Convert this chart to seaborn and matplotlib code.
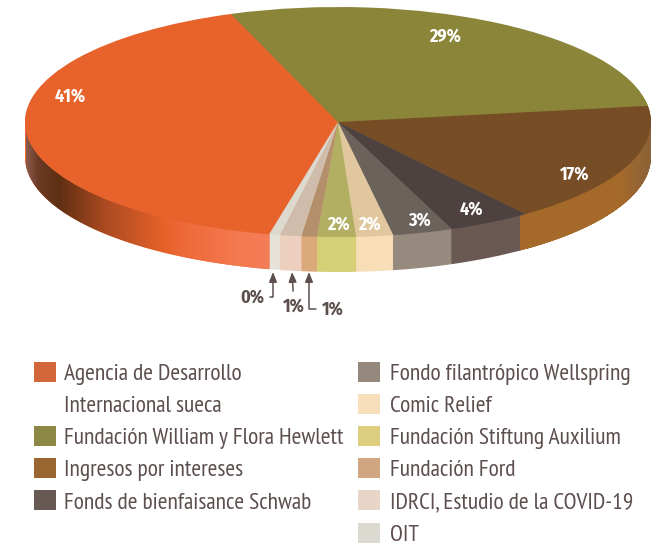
import numpy as np
import matplotlib
matplotlib.use("Agg")
import matplotlib.pyplot as plt
from matplotlib.patches import Patch, Polygon
from matplotlib.colors import LinearSegmentedColormap
from matplotlib import font_manager as fm
import seaborn as sns

categories = ["Agencia de Desarrollo Internacional sueca", "Fundación William y Flora Hewlett",
              "Ingresos por intereses", "Fonds de bienfaisance Schwab", "Fondo filantrópico Wellspring",
              "Comic Relief", "Fundación Stiftung Auxilium", "Fundación Ford",
              "IDRCI, Estudio de la COVID-19", "OIT"]
values = [40.9, 28.3, 17.0, 4.3, 3.1, 1.9, 2.0, 0.8, 1.1, 0.55]
pct_labels = ["41%", "29%", "17%", "4%", "3%", "2%", "2%", "1%", "1%", "0%"]
top_colors = ["#e8632b", "#8a8539", "#774d26", "#4e4240", "#6b625c", "#e0c79d", "#b2ae62", "#b48f6c", "#cfbcab", "#dcd9cf"]
side_colors = ["#ee6a3a", "#8a8539", "#a56a2a", "#6a5853", "#96897d", "#f7deb7", "#d5cf78", "#dca97a", "#edcfbd", "#e6e2d8"]
legend_colors = ["#d4673a", "#8c8744", "#9a6631", "#675a55", "#95897e", "#f7dfbb", "#dccd7f", "#cfa680", "#e8d5c7", "#dcdad0"]
legend_left = ["Agencia de Desarrollo", "Internacional sueca", "Fundación William y Flora Hewlett",
               "Ingresos por intereses", "Fonds de bienfaisance Schwab"]
legend_right = ["Fondo filantrópico Wellspring", "Comic Relief", "Fundación Stiftung Auxilium",
                "Fundación Ford", "IDRCI, Estudio de la COVID-19", "OIT"]

sns.set_theme(style="white")
names = {f.name for f in fm.fontManager.ttflist}
# condensed face if the machine has one, otherwise a plain face at a smaller size
if "PT Sans Narrow" in names:
    LEG_FONT, LEG_FS = "PT Sans Narrow", 16.9
else:
    LEG_FONT, LEG_FS = "Liberation Sans", 12.5
if "Fira Sans Condensed" in names:
    PCT_FONT, PCT_FS = "Fira Sans Condensed", 13
else:
    PCT_FONT, PCT_FS = "Liberation Sans", 10.5
plt.rcParams["font.family"] = [LEG_FONT, "DejaVu Sans"]
TXT = "#5d4f4e"

W, H = 668, 547
A, B, CX, CY, DEPTH = 313.0, 115.0, 338.0, 122.0, 35
START = 257.3

fig = plt.figure(figsize=(W / 100, H / 100), dpi=100, facecolor="white")
ax = fig.add_axes([0, 0, 1, 1])
overlay = fig.add_axes([0, 0, 1, 1], facecolor="none")
palette_top = sns.color_palette(top_colors)
palette_side = sns.color_palette(side_colors)

# side wall: stacked copies of the pie, shifted downward
for k in range(DEPTH, 0, -1):
    ax.pie(values, colors=palette_side, startangle=START, counterclock=False,
           center=(0, -k / B), wedgeprops={"linewidth": 0})

frac = np.cumsum(values) / np.sum(values) * 360


def wall_band(a0, a1):
    t = np.radians(np.linspace(a0, a1, 120))
    upper = np.c_[np.cos(t), np.sin(t)]
    lower = upper[::-1] - [0, DEPTH / B]
    return np.vstack([upper, lower])


def gradient(a0, a1, stops):
    xs = [(p - CX) / A for p, _ in stops]
    lo, hi = xs[0], xs[-1]
    cmap = LinearSegmentedColormap.from_list("g", [((x - lo) / (hi - lo), c) for x, (_, c) in zip(xs, stops)])
    im = ax.imshow(np.linspace(0, 1, 512)[None, :], extent=(lo, hi, -1.6, 0.2), cmap=cmap,
                   aspect="auto", zorder=1.5, interpolation="bilinear")
    clip = Polygon(wall_band(a0, a1), closed=True, transform=ax.transData, fill=False, lw=0)
    ax.add_patch(clip)
    im.set_clip_path(clip)


# orange wall runs from the leftmost point to the slice's end angle
gradient(180, START, [(26, "#8a5a4c"), (38, "#6b3a25"), (58, "#5f2f12"), (105, "#ab4a22"),
                      (165, "#e8622a"), (185, "#ee6a3a"), (240, "#f47a50"), (270, "#f47c58")])
# brown wall: from the slice's clockwise end to the rightmost point
brown_end = START - frac[2]
gradient(brown_end, 360, [(520, "#a56a2a"), (620, "#a56a2a"), (652, "#8a6238")])

wedges, _ = ax.pie(values, colors=palette_top, startangle=START, counterclock=False,
                   wedgeprops={"linewidth": 0})
for w in wedges:
    w.set_zorder(2)

ax.set_aspect("auto")
ax.set_xlim(-CX / A, (W - CX) / A)
ax.set_ylim((CY - H) / B, CY / B)
ax.axis("off")

overlay.set_xlim(0, W)
overlay.set_ylim(H, 0)
overlay.axis("off")

# percentage labels on the pie
inner_pos = [(70, 96), (445, 36), (575, 174), (471, 209), (419, 220), (369, 224), (338, 224)]
for lab, (x, y) in zip(pct_labels[:7], inner_pos):
    overlay.text(x, y, lab, color="white", fontsize=PCT_FS, fontweight="bold", family=PCT_FONT,
                 ha="center", va="center")

# small slices with callouts
callouts = [("1%", (333, 309), (309, 272), "angle,angleA=0,angleB=90,rad=0"),
            ("1%", (294, 306), (292, 272), None),
            ("0%", (252, 297), (273, 272), "angle,angleA=0,angleB=90,rad=0")]
for (lab, txt, tip, conn) in callouts:
    props = dict(arrowstyle="-|>,head_length=0.45,head_width=0.18", color=TXT, lw=1.1, shrinkA=2, shrinkB=0)
    if conn:
        props["connectionstyle"] = conn
    overlay.annotate(lab, xy=tip, xytext=txt, xycoords="data", textcoords="data",
                     color=TXT, fontsize=PCT_FS, fontweight="bold", family=PCT_FONT,
                     ha="center", va="center", arrowprops=props)

order_left = [legend_colors[0], "none", legend_colors[1], legend_colors[2], legend_colors[3]]
order_right = legend_colors[4:]
em = LEG_FS * 100 / 72
common = dict(frameon=False, loc="upper left", borderpad=0, borderaxespad=0, fontsize=LEG_FS,
              handlelength=22 / em, handleheight=22 / em,
              labelspacing=(31 - 22) / em, labelcolor=TXT, bbox_transform=overlay.transData)
leg1 = overlay.legend([Patch(fc=c, lw=0) for c in order_left], legend_left,
                      bbox_to_anchor=(34, 362), handletextpad=8 / em, **common)
overlay.add_artist(leg1)
overlay.legend([Patch(fc=c, lw=0) for c in order_right], legend_right,
               bbox_to_anchor=(358, 362), handletextpad=10 / em, **common)

fig.savefig("out.png", dpi=100)
